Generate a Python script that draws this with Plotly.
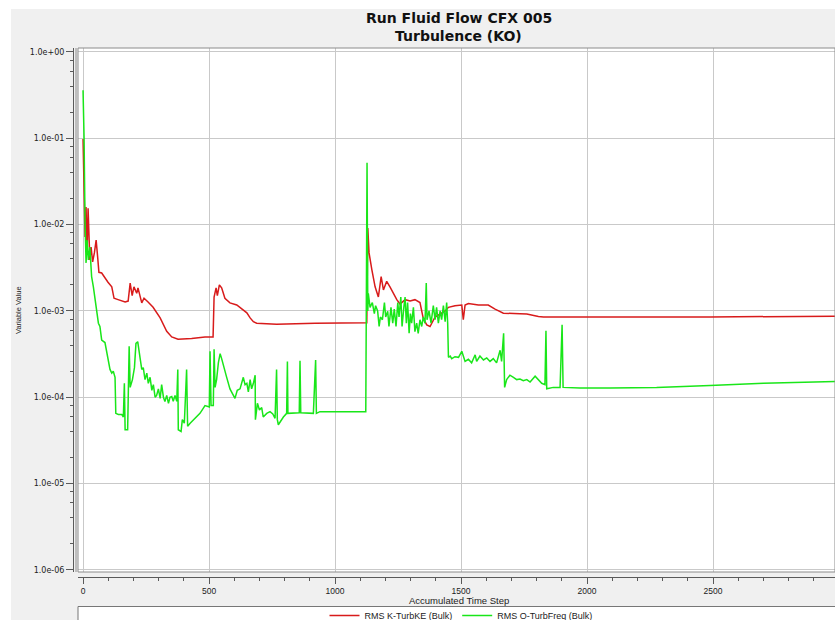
import plotly.graph_objects as go

# ---------------- data ----------------
red_steps = [0, 2, 4, 8, 12, 16, 20, 27, 32, 38, 45, 52, 58, 63, 74, 83, 99, 114, 123, 139,
             167, 179, 187, 195, 202, 213, 218, 233, 242, 258, 278, 306, 332, 352, 377, 431,
             484, 516, 520, 528, 533, 541, 550, 563, 583, 610, 630, 650, 663, 676, 689, 768,
             921, 1126, 1130, 1135, 1146, 1159, 1172, 1183, 1192, 1205, 1218, 1231, 1245,
             1258, 1278, 1298, 1317, 1337, 1350, 1364, 1377, 1397, 1417, 1437, 1450, 1476,
             1503, 1509, 1516, 1529, 1569, 1608, 1635, 1668, 1734, 1761, 1807, 1827, 2488, 2984]
red_vals = [9.8e-2, 4.6e-2, 1.8e-2, 7.2e-3, 1.6e-2, 4.7e-3, 1.55e-2, 3.9e-3, 5.5e-3, 3.7e-3,
            4.7e-3, 6.6e-3, 4.2e-3, 2.8e-3, 2.75e-3, 2.5e-3, 2.15e-3, 1.9e-3, 1.4e-3, 1.35e-3,
            1.27e-3, 1.3e-3, 2.1e-3, 1.5e-3, 1.9e-3, 1.6e-3, 1.85e-3, 1.24e-3, 1.4e-3, 1.27e-3,
            1.1e-3, 8.3e-4, 5.8e-4, 5.0e-4, 4.7e-4, 4.8e-4, 5.0e-4, 5.0e-4, 1.45e-3, 1.85e-3,
            1.5e-3, 2.0e-3, 1.85e-3, 1.4e-3, 1.24e-3, 1.17e-3, 1.05e-3, 9.5e-4, 8.3e-4, 7.5e-4,
            7.2e-4, 7.0e-4, 7.2e-4, 7.3e-4, 9.1e-3, 4.7e-3, 3.0e-3, 1.9e-3, 1.45e-3, 2.5e-3,
            1.75e-3, 2.2e-3, 1.9e-3, 1.6e-3, 1.35e-3, 1.2e-3, 1.35e-3, 1.3e-3, 1.35e-3, 1.25e-3,
            8.2e-4, 6.9e-4, 6.6e-4, 8.5e-4, 9.3e-4, 1.0e-3, 1.1e-3, 1.15e-3, 1.17e-3, 7.9e-4,
            1.17e-3, 1.22e-3, 1.17e-3, 1.17e-3, 1.05e-3, 9.4e-4, 9.3e-4, 9.2e-4, 8.6e-4, 8.5e-4,
            8.5e-4, 8.7e-4]

green_steps = [0, 4, 8, 12, 16, 21, 27, 32, 34, 41, 48, 54, 61, 67, 74, 87, 94, 100, 107, 114,
               120, 127, 130, 140, 154, 160, 164, 167, 177, 183, 187, 196, 204, 210, 217, 226,
               233, 239, 246, 253, 259, 266, 273, 279, 286, 292, 299, 306, 312, 319, 325, 332,
               339, 345, 352, 358, 365, 372, 376, 378, 389, 394, 402, 411, 415, 425, 464, 484,
               501, 504, 508, 517, 520, 524, 530, 537, 544, 550, 560, 570, 583, 594, 603, 612,
               623, 636, 643, 650, 656, 663, 669, 676, 683, 684, 692, 700, 709, 715, 729, 742,
               753, 762, 768, 771, 775, 795, 808, 811, 813, 858, 861, 864, 914, 923, 926, 940,
               1122, 1127, 1130, 1132, 1139, 1148, 1156, 1161, 1169, 1175, 1180, 1188, 1196,
               1201, 1209, 1214, 1222, 1229, 1235, 1242, 1249, 1254, 1261, 1266, 1273, 1278,
               1283, 1288, 1294, 1299, 1304, 1311, 1317, 1324, 1330, 1337, 1344, 1350, 1357,
               1362, 1365, 1373, 1381, 1390, 1397, 1403, 1410, 1417, 1423, 1430, 1437, 1443,
               1447, 1450, 1457, 1463, 1476, 1490, 1503, 1516, 1529, 1542, 1556, 1562, 1575,
               1589, 1602, 1615, 1628, 1641, 1655, 1661, 1669, 1673, 1681, 1694, 1708, 1721,
               1734, 1747, 1761, 1774, 1794, 1807, 1820, 1833, 1837, 1840, 1866, 1893, 1901,
               1905, 1972, 2091, 2276, 2488, 2700, 2984]
green_vals = [3.6e-1, 1.04e-1, 1.05e-2, 3.6e-3, 6.6e-3, 3.9e-3, 5.5e-3, 3.2e-3, 2.5e-3, 1.9e-3,
              1.35e-3, 9.3e-4, 7.2e-4, 6.6e-4, 4.6e-4, 4.3e-4, 3.2e-4, 2.5e-4, 2.1e-4, 1.9e-4,
              2.0e-4, 1.7e-4, 6.5e-5, 6.3e-5, 6.3e-5, 5.9e-5, 1.45e-4, 4.2e-5, 4.2e-5, 3.9e-4,
              1.3e-4, 1.6e-4, 2.2e-4, 4.2e-4, 4.4e-4, 2.9e-4, 2.1e-4, 2.2e-4, 1.6e-4, 1.9e-4,
              1.45e-4, 1.7e-4, 1.2e-4, 1.4e-4, 1.0e-4, 1.05e-4, 1.25e-4, 9.7e-5, 1.4e-4, 1.0e-4,
              8.9e-5, 1.05e-4, 8.5e-5, 1.0e-4, 1.02e-4, 9.0e-5, 1.05e-4, 9.0e-5, 2.1e-4, 4.2e-5,
              4.0e-5, 5.5e-5, 5.0e-5, 2.1e-4, 4.6e-5, 5.0e-5, 6.5e-5, 8.0e-5, 7.7e-5, 3.4e-4,
              8.0e-5, 8.0e-5, 3.6e-4, 1.3e-4, 1.6e-4, 2.5e-4, 3.2e-4, 2.8e-4, 2.1e-4, 1.7e-4,
              1.25e-4, 1.1e-4, 9.7e-5, 1.2e-4, 1.25e-4, 1.7e-4, 1.4e-4, 1.45e-4, 1.15e-4, 1.6e-4,
              1.25e-4, 1.45e-4, 1.8e-4, 5.5e-5, 8.5e-5, 7.1e-5, 7.6e-5, 5.9e-5, 6.5e-5, 6.8e-5,
              6.4e-5, 5.7e-5, 2.1e-4, 5.5e-5, 4.8e-5, 5.9e-5, 6.5e-5, 2.6e-4, 6.5e-5, 6.6e-5,
              2.65e-4, 6.6e-5, 6.5e-5, 2.7e-4, 6.5e-5, 6.8e-5, 6.8e-5, 5.2e-2, 1.0e-3, 1.6e-3,
              1.1e-3, 1.25e-3, 9.3e-4, 1.15e-3, 1.0e-3, 6.6e-4, 8.5e-4, 7.9e-4, 1.25e-3, 8.5e-4,
              9.9e-4, 6.6e-4, 1.1e-3, 7.2e-4, 1.05e-3, 6.6e-4, 1.25e-3, 8.5e-4, 1.45e-3, 6.6e-4,
              1.1e-3, 1.45e-3, 7.2e-4, 1.25e-3, 5.5e-4, 9.3e-4, 7.2e-4, 1.1e-3, 5.75e-4, 7.2e-4,
              5.5e-4, 7.9e-4, 6.6e-4, 8.5e-4, 7.2e-4, 2.1e-3, 7.9e-4, 1.0e-3, 7.2e-4, 1.15e-3,
              7.9e-4, 1.1e-3, 7.2e-4, 1.0e-3, 7.9e-4, 1.15e-3, 7.5e-4, 1.25e-3, 7.2e-4, 2.9e-4,
              3.0e-4, 2.8e-4, 2.95e-4, 2.9e-4, 3.4e-4, 2.6e-4, 2.75e-4, 2.5e-4, 3.1e-4, 2.6e-4,
              3.0e-4, 2.7e-4, 2.85e-4, 2.6e-4, 2.8e-4, 2.5e-4, 3.5e-4, 2.6e-4, 5.5e-4, 1.3e-4,
              1.6e-4, 1.8e-4, 1.7e-4, 1.6e-4, 1.62e-4, 1.55e-4, 1.6e-4, 1.5e-4, 1.75e-4, 1.6e-4,
              1.45e-4, 1.4e-4, 5.9e-4, 1.25e-4, 1.3e-4, 1.3e-4, 6.9e-4, 1.3e-4, 1.28e-4, 1.28e-4,
              1.3e-4, 1.37e-4, 1.45e-4, 1.52e-4]

series_names = ["RMS K-TurbKE (Bulk)", "RMS O-TurbFreq (Bulk)"]

x_tick_vals = [0, 500, 1000, 1500, 2000, 2500, 3000]
x_tick_text = ["0", "500", "1000", "1500", "2000", "2500", "3000"]
y_tick_vals = [1e-6, 1e-5, 1e-4, 1e-3, 1e-2, 1e-1, 1e0]
y_tick_text = ["1.0e-06", "1.0e-05", "1.0e-04", "1.0e-03", "1.0e-02", "1.0e-01", "1.0e+00"]
y_minor_vals = [m * d for d in [1e-6, 1e-5, 1e-4, 1e-3, 1e-2, 1e-1] for m in (2, 4, 6, 8)]

title_lines = ["Run Fluid Flow CFX 005", "Turbulence (KO)"]
x_title = "Accumulated Time Step"
y_title = "Variable Value"

# ---------------- layout geometry ----------------
W, H = 835, 620
ML, MR, MT, MB = 73, 0, 48, 43
PLOT_LEFT, PLOT_BOTTOM = 78, 572
PW, PH = W - ML - MR, H - MT - MB


def px_x(px):
    return (px - ML) / PW


def px_y(py):
    return (H - MB - py) / PH


RED = "#d81b1b"
GREEN = "#19e619"
AXIS = "#5a5a5a"
GRID = "#c9c9c9"

fig = go.Figure()
fig.add_trace(go.Scatter(x=red_steps, y=red_vals, mode="lines", name=series_names[0],
                         line=dict(color=RED, width=1.5)))
fig.add_trace(go.Scatter(x=green_steps, y=green_vals, mode="lines", name=series_names[1],
                         line=dict(color=GREEN, width=1.5)))

fig.update_layout(
    width=W, height=H,
    margin=dict(l=ML, r=MR, t=MT, b=MB, autoexpand=False),
    paper_bgcolor="#f0f0f0",
    plot_bgcolor="white",
    showlegend=True,
    xaxis=dict(domain=[px_x(PLOT_LEFT), 1], anchor="free", position=0,
               range=[-20, 2984], tickmode="array", tickvals=x_tick_vals, ticktext=x_tick_text,
               showgrid=True, gridcolor=GRID, gridwidth=1, zeroline=False,
               showline=True, linecolor=AXIS, linewidth=1,
               ticks="outside", ticklen=6, tickcolor=AXIS, tickwidth=1,
               minor=dict(dtick=100, tick0=0, ticks="outside", ticklen=3, tickcolor=AXIS,
                          showgrid=False),
               tickfont=dict(family="Liberation Sans", size=8.5, color="#222")),
    yaxis=dict(type="log", domain=[px_y(PLOT_BOTTOM), 1], anchor="free", position=0,
               range=[-6.025, 0.046], tickmode="array", tickvals=y_tick_vals,
               ticktext=y_tick_text,
               showgrid=True, gridcolor=GRID, gridwidth=1, zeroline=False,
               showline=True, linecolor=AXIS, linewidth=1,
               ticks="outside", ticklen=7, tickcolor=AXIS, tickwidth=1,
               minor=dict(tickmode="array", tickvals=y_minor_vals, ticks="outside",
                          ticklen=3, tickcolor=AXIS, showgrid=False),
               tickfont=dict(family="DejaVu Sans", size=8, color="#222")),
    legend=dict(orientation="h", x=px_x(461), xanchor="center", y=px_y(615.5), yanchor="middle",
                bgcolor="rgba(0,0,0,0)", borderwidth=0,
                font=dict(family="Liberation Sans", size=9, color="#222"),
                itemwidth=30, tracegroupgap=0),
    shapes=[
        # white page strips around the grey chart panel
        dict(type="rect", xref="paper", yref="paper", x0=px_x(0), x1=px_x(11),
             y0=px_y(H), y1=px_y(0), fillcolor="white", line=dict(width=0), layer="below"),
        dict(type="rect", xref="paper", yref="paper", x0=px_x(0), x1=px_x(W),
             y0=px_y(9), y1=px_y(0), fillcolor="white", line=dict(width=0), layer="below"),
        # legend box
        dict(type="rect", xref="paper", yref="paper", x0=px_x(PLOT_LEFT), x1=px_x(W + 10),
             y0=px_y(H + 10), y1=px_y(606.5), fillcolor="white",
             line=dict(color="#777", width=1), layer="below"),
        # plot frame (double left edge)
        dict(type="rect", xref="x domain", yref="y domain", x0=0, x1=1, y0=0, y1=1,
             line=dict(color="#8c8c8c", width=1)),
        dict(type="line", xref="paper", yref="y domain", x0=px_x(PLOT_LEFT - 2),
             x1=px_x(PLOT_LEFT - 2), y0=0, y1=1, line=dict(color="#8c8c8c", width=1)),
    ],
    annotations=[
        dict(text="<b>" + title_lines[0] + "</b>", xref="paper", yref="paper",
             x=px_x(459), y=px_y(18), xanchor="center", yanchor="middle", showarrow=False,
             font=dict(family="DejaVu Sans", size=14, color="#111")),
        dict(text="<b>" + title_lines[1] + "</b>", xref="paper", yref="paper",
             x=px_x(459), y=px_y(36), xanchor="center", yanchor="middle", showarrow=False,
             font=dict(family="DejaVu Sans", size=14, color="#111")),
        dict(text=x_title, xref="paper", yref="paper", x=px_x(459), y=px_y(600),
             xanchor="center", yanchor="middle", showarrow=False,
             font=dict(family="Liberation Sans", size=9.5, color="#222")),
        dict(text=y_title, xref="paper", yref="paper", x=px_x(18), y=px_y(310),
             xanchor="center", yanchor="middle", showarrow=False, textangle=-90,
             font=dict(family="Liberation Sans", size=7.5, color="#222")),
    ],
)

fig.write_html("out.html")
